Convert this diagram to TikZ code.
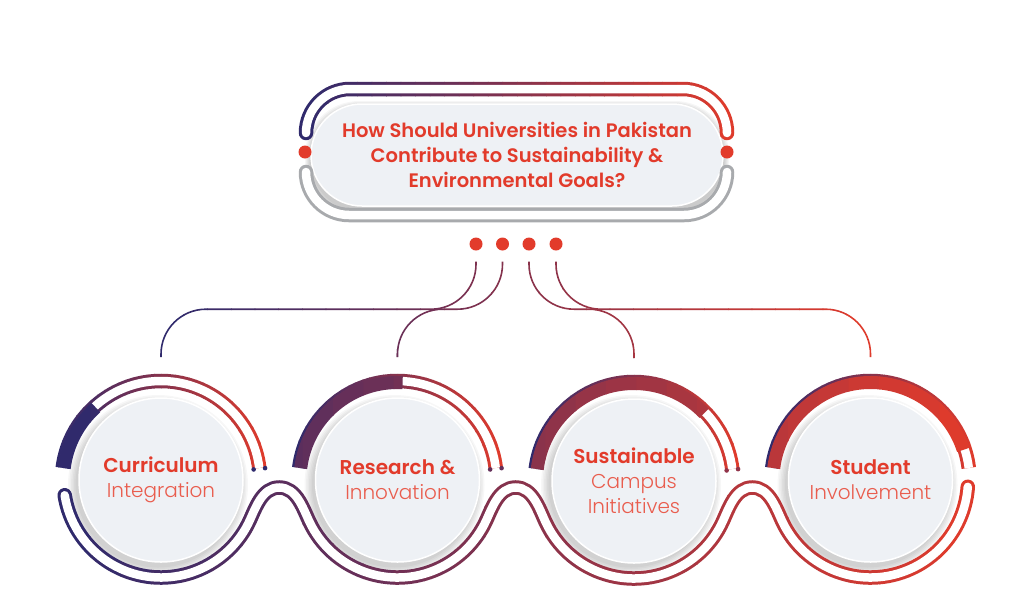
\documentclass[tikz,border=0pt]{standalone}
\usepackage{fontspec}
\setmainfont{Poppins}
\newfontfamily\headfont{Poppins SemiBold}
\newfontfamily\thinfont{Poppins Light}
\usetikzlibrary{positioning, calc}

\definecolor{deepblue}{HTML}{2E2A6D}
\definecolor{flame}{HTML}{E23B2B}
\definecolor{softflame}{HTML}{E95D4E}
\definecolor{steel}{HTML}{A8AAAD}
\definecolor{mist}{HTML}{EEF1F5}

% stroke a path with a left-to-right colour ramp (#1..#2 = x range)
\newcommand{\gradpath}[6]{%
  \foreach \gk in {0,...,29}{%
    \pgfmathsetmacro{\gxa}{ifthenelse(\gk==0,-100,(#1)+((#2)-(#1))/30*\gk)}%
    \pgfmathsetmacro{\gxb}{ifthenelse(\gk==29,1200,(#1)+((#2)-(#1))/30*(\gk+1)+0.6)}%
    \pgfmathtruncatemacro{\gmix}{(\gk+0.5)/30*100}%
    \begin{scope}
      \clip (\gxa,-100) rectangle (\gxb,800);
      \draw[draw=#4!\gmix!#3, #5] #6;
    \end{scope}}}

\begin{document}
\begin{tikzpicture}[x=1pt, y=-1pt,
    disc/.style={circle, fill=mist, draw=white, line width=1.5pt, minimum size=164pt, inner sep=0pt, align=center, text=flame, font=\fontsize{20}{25}\selectfont},
    pill/.style={rectangle, rounded corners=51pt, fill=mist, draw=white, line width=1.5pt, minimum width=412pt, minimum height=102pt, align=center, text=flame, font=\headfont\fontsize{19.5}{25}\selectfont},
    reddot/.style={circle, fill=flame, inner sep=0pt, minimum size=13pt},
    link/.style={line width=1.6pt, rounded corners=45pt},
    ring/.style={line width=14.5pt},
    ringgap/.style={white, line width=8.5pt}
  ]
  \useasboundingbox (0,0) rectangle (1024,611);
  \fill[white] (0,0) rectangle (1024,611);

  % soft shadows
  \foreach \s in {1,...,6}{
    \fill[black, opacity=.035, rounded corners=54pt] (311-\s,107-\s) rectangle (723+\s,212+\s);
    \foreach \cx in {161,397.5,634,870.5}
      \fill[black, opacity=.03] (\cx-3,485) circle[radius=81+\s*1.5];
  }

  % question
  \node[pill] (q) at (517,155) {How Should Universities in Pakistan\\Contribute to Sustainability \&\\Environmental Goals?};
  \node[reddot] (e1) at (305,152) {};
  \node[reddot] (e2) at (727,152) {};

  % topics
  \node[disc] (c1) at (161,480) {{\headfont Curriculum}\\{\thinfont\color{softflame}Integration}};
  \node[disc] (c2) at (397.5,480) {{\headfont Research \&}\\{\thinfont\color{softflame}Innovation}};
  \node[disc] (c3) at (634,481) {{\headfont Sustainable}\\{\thinfont\color{softflame}Campus}\\{\thinfont\color{softflame}Initiatives}};
  \node[disc] (c4) at (870.5,480) {{\headfont Student}\\{\thinfont\color{softflame}Involvement}};

  % dots and links
  \foreach \i/\x in {1/476, 2/502.5, 3/529, 4/556}
    \node[reddot] (d\i) at (\x,244) {};
  \foreach \i in {1,...,4}
    \coordinate (t\i) at ($(c\i.center)+(0,-123)$);
  \foreach \i in {1,...,4}
    \gradpath{160}{870}{deepblue}{flame}{link}{([yshift=-11pt]d\i.south) -- ++(0,47.5) -| (t\i)};

  % frame round the question
  \gradpath{299}{735}{deepblue}{flame}{ring, line cap=round, rounded corners=44pt}{(306,133) -- (306,89) -- (727,89) -- (727,133)};
  \draw[ringgap, line cap=round, rounded corners=44pt] (306,133) -- (306,89) -- (727,89) -- (727,133);
  \draw[ring, steel, line cap=round, rounded corners=43pt] (306,172) -- (306,215) -- (727,215) -- (727,172);
  \draw[ringgap, line cap=round, rounded corners=43pt] (306,172) -- (306,215) -- (727,215) -- (727,172);

  % lower band through all circles
  \def\band{($(c1.center)+(171:97.5)$) arc[start angle=171, end angle=25, radius=97.5]
    .. controls +(-65:15) and +(-17,0) .. (279.25,487.5)
    .. controls +(17,0) and +(-115:15) .. ($(c2.center)+(155:97.5)$)
    arc[start angle=155, end angle=25, radius=97.5]
    .. controls +(-65:15) and +(-17,0) .. (515.75,487.5)
    .. controls +(17,0) and +(-115:15) .. ($(c3.center)+(155:97.5)$)
    arc[start angle=155, end angle=25, radius=97.5]
    .. controls +(-65:15) and +(-17,0) .. (752.25,487.5)
    .. controls +(17,0) and +(-115:15) .. ($(c4.center)+(155:97.5)$)
    arc[start angle=155, end angle=4, radius=97.5]}
  \gradpath{60}{970}{deepblue}{flame}{ring, line cap=round}{\band};
  \draw[ringgap, line cap=round] \band;

  % upper arcs
  \foreach \i/\cx/\e in {1/161/228, 2/397.5/273, 3/634/316, 4/870.5/342}{
    \gradpath{\cx-106}{\cx+106}{deepblue}{flame}{ring}{($(c\i.center)+(187:99)$) arc[start angle=187, end angle=353, radius=99]};
    \draw[ringgap] ($(c\i.center)+(187:99)$) arc[start angle=187, end angle=353, radius=99];
    \gradpath{60}{970}{deepblue}{flame}{line width=13pt}{($(c\i.center)+(187:97.5)$) arc[start angle=187, end angle=\e, radius=97.5]};
  }
  \foreach \i/\tone in {1/deepblue, 2/deepblue!70!flame, 3/deepblue!45!flame}{
    \fill[\tone] ($(c\i.center)+(353.5:93.25)$) circle[radius=2.3];
    \fill[\tone] ($(c\i.center)+(353.5:104.75)$) circle[radius=2.3];
  }
\end{tikzpicture}
\end{document}
